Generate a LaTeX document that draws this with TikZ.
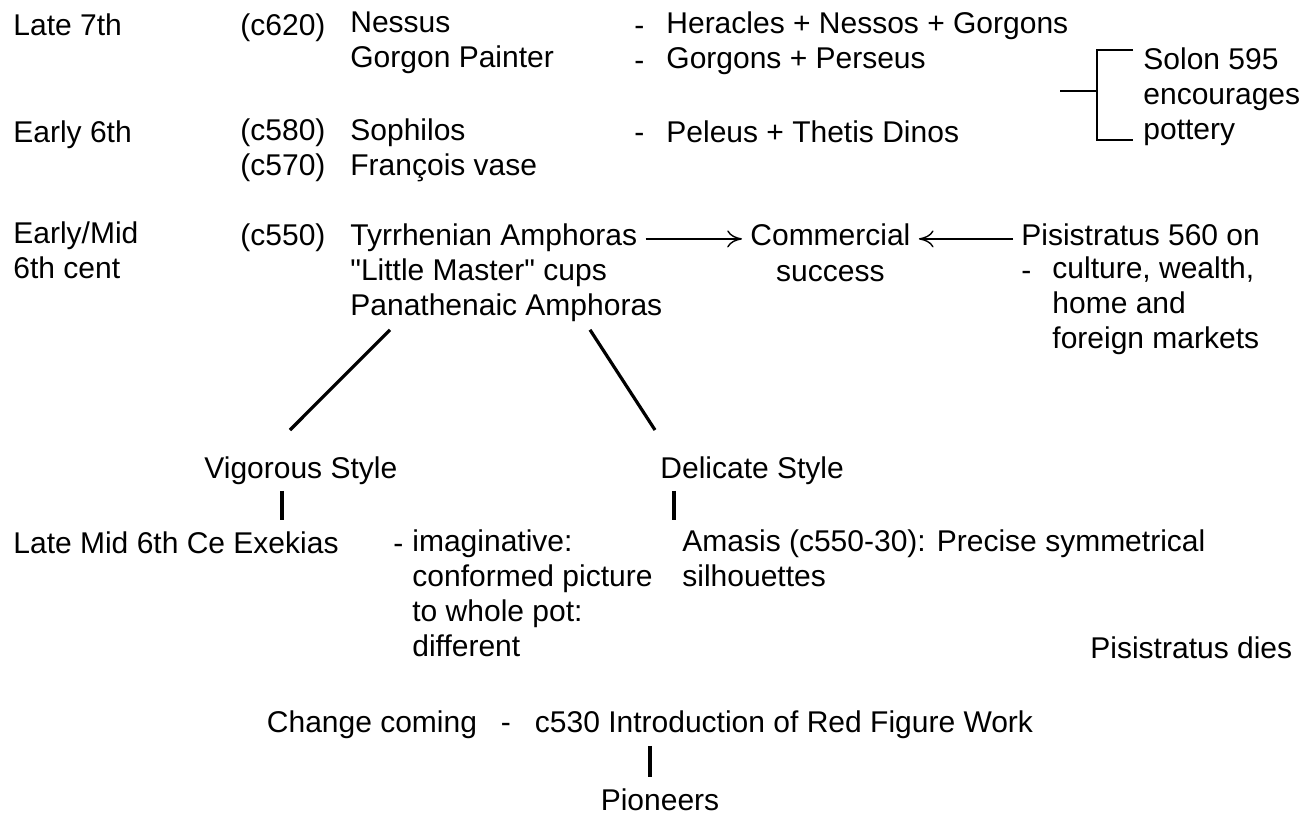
\documentclass[tikz,border=0pt]{standalone}
\usepackage{fontspec}
\setmainfont{Liberation Sans}
\usetikzlibrary{arrows.meta, positioning}

\begin{document}
\begin{tikzpicture}[
			x=0.5pt, y=-0.5pt,
			node distance=0pt,
			txt/.style={
				anchor=north west,
				inner sep=0pt,
				align=left,
				execute at begin node=\strut,
				font=\fontsize{15}{17.5}\selectfont
			},
			arrow/.style={-{To[length=2.6mm, width=3mm]}, line width=0.7pt},
			link/.style={line width=1.6pt},
			brace/.style={line width=0.7pt}
			]
			
			\useasboundingbox (0,0) rectangle (1310,819);
			
			\node[txt] (late) at (13,11) {Late 7th};
			\node[txt] (c620) at (240,11) {(c620)};
			\node[txt] (nessus) at (350,11) {Nessus\\Gorgon Painter};
			\node[txt] (dasha) at (634,11) {\strut-\\\strut-};
			\node[txt] (heracles) at (666,11) {Heracles + Nessos + Gorgons\\Gorgons + Perseus};
			
			\node[txt] (solon) at (1143,47) {Solon 595\\encourages\\pottery};
			
			\node[txt] (early) at (13,118) {Early 6th};
			\node[txt] (c580) at (240,118) {(c580)\\(c570)};
			\node[txt] (sophilos) at (350,118) {Sophilos\\François vase};
			\node[txt] (dashb) at (634,118) {-};
			\node[txt] (peleus) at (666,118) {Peleus + Thetis Dinos};
			
			\node[txt] (earlymid) at (13,221) {Early/Mid\\6th cent};
			\node[txt] (c550) at (240,221) {(c550)};
			\node[txt] (tyrr) at (350,221) {Tyrrhenian Amphoras};
			\node[txt] (little) at (350,256) {\textquotedbl Little Master\textquotedbl{} cups};
			\node[txt] (panath) at (350,291) {Panathenaic Amphoras};
			
			\node[txt] (comm) at (750,221) {Commercial};
			\node[txt, anchor=north, below=of comm] (success) {success};
			
			\node[txt] (pisis) at (1021,221) {Pisistratus 560 on};
			\node[txt] (pdash) at (1021,256) {-};
			\node[txt] (culture) at (1052,256) {culture, wealth,\\home and\\foreign markets};
			
			\node[txt] (vigorous) at (204,454) {Vigorous Style};
			\node[txt] (delicate) at (660,454) {Delicate Style};
			
			\node[txt] (exekias) at (13,529) {Late Mid 6th Ce Exekias};
			\node[txt] (idash) at (393,529) {-};
			\node[txt] (imag) at (412,529) {imaginative:\\conformed picture\\to whole pot:\\different};
			\node[txt] (amasis) at (682,529) {Amasis (c550-30): Precise symmetrical\\silhouettes};
			
			\node[txt] (dies) at (1090,634) {Pisistratus dies};
			
			\node[txt, anchor=north] (change) at (650,708) {Change coming\hspace{0.8em}-\hspace{0.8em}c530 Introduction of Red Figure Work};
			\node[txt, anchor=north] (pioneers) at (660,786) {Pioneers};
			
			\draw[arrow] ([xshift=4pt]tyrr.east) -- ([xshift=-4pt]comm.west);
			\draw[arrow] ([xshift=-4pt]pisis.west) -- ([xshift=4pt]comm.east);
			
			\draw[brace] ([shift={(-10,3)}]solon.north west) -- ++(-36,0) |- ([shift={(-10,-10)}]solon.south west);
			\draw[brace] ([shift={(-46,44)}]solon.north west) -- ++(-37,0);
			
			\draw[link] ([shift={(40,3)}]panath.south west) -- ([shift={(86,-24)}]vigorous.north west);
			\draw[link] ([shift={(240,3)}]panath.south west) -- ([shift={(-5,-24)}]delicate.north west);
			
			\draw[link] ([shift={(78,1)}]vigorous.south west) -- ([shift={(78,-9)}]vigorous.south west |- exekias.north);
			\draw[link] ([shift={(14,1)}]delicate.south west) -- ([shift={(14,-9)}]delicate.south west |- amasis.north);
			\draw[link] ([yshift=-1pt]change.south) -- ([yshift=4.5pt]change.south |- pioneers.north);
			
		\end{tikzpicture}
\end{document}
